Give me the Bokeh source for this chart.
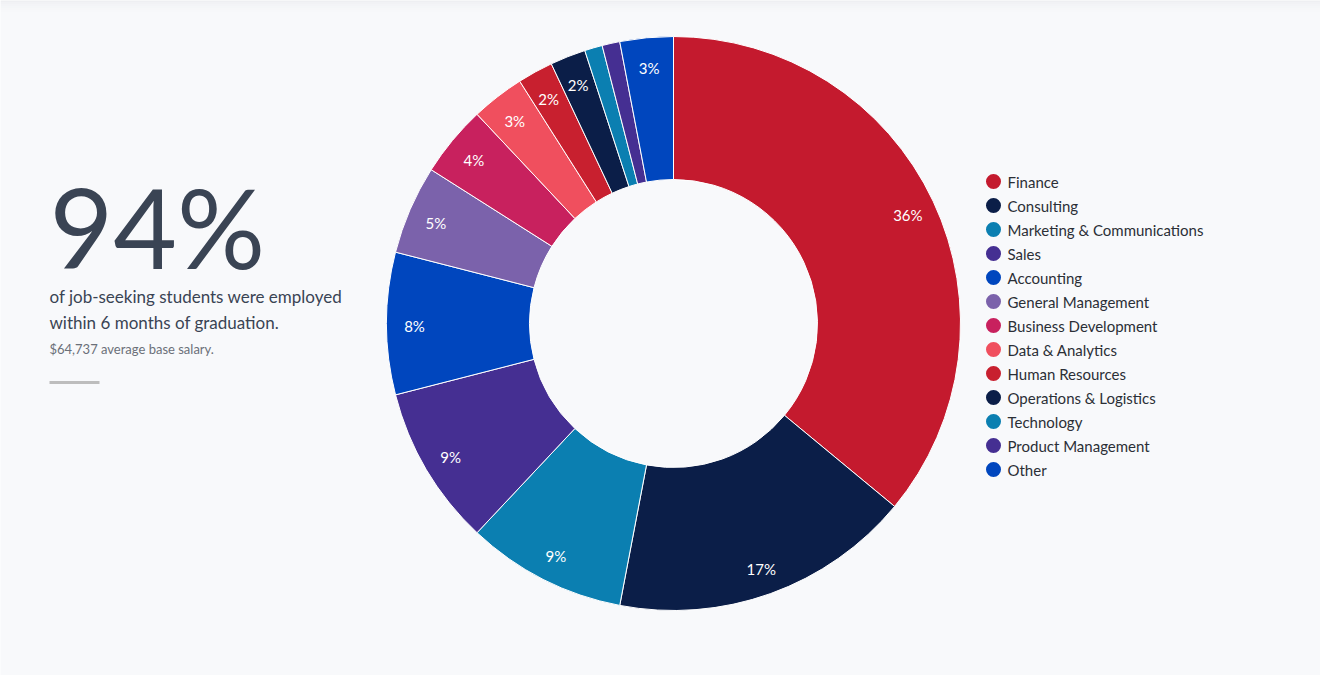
import numpy as np
from bokeh.plotting import figure
from bokeh.models import Range1d, ColumnDataSource
from bokeh.core.properties import value
from bokeh.embed import file_html
from bokeh.resources import INLINE

categories = ["Finance", "Consulting", "Marketing & Communications", "Sales",
              "Accounting", "General Management", "Business Development",
              "Data & Analytics", "Human Resources", "Operations & Logistics",
              "Technology", "Product Management", "Other"]
shares = [36, 17, 9, 9, 8, 5, 4, 3, 2, 2, 1, 1, 3]
colors = ["#c41a2e", "#0b1e48", "#0b7fb1", "#452f92", "#0046be", "#7b62ab",
          "#c8215e", "#f04f5e", "#c8202f", "#0b1e48", "#0b7fb1", "#452f92", "#0046be"]

headline = "94%"
line1 = "of job-seeking students were employed"
line2 = "within 6 months of graduation."
line3 = "$64,737 average base salary."

W, H = 1320, 675
BG = "#f8f9fb"
FONT = "Lato"

def sx(x):
    return x

def sy(y):
    return H - y

p = figure(width=W, height=H, output_backend="svg", toolbar_location=None,
           x_range=Range1d(0, W), y_range=Range1d(0, H), min_border=0,
           background_fill_color=BG, border_fill_color=BG)
p.axis.visible = False
p.grid.visible = False
p.outline_line_color = None

# top shadow
for i, a in enumerate([0.10, 0.07, 0.05, 0.035, 0.02, 0.01]):
    p.segment(x0=[0], x1=[W], y0=[H - 0.5 - i * 2], y1=[H - 0.5 - i * 2],
              line_color="#9aa0a8", line_alpha=a, line_width=2)

# donut
vals = np.array(shares, dtype=float)
frac = vals / vals.sum()
cum_end = np.cumsum(frac)
cum_start = cum_end - frac
start = np.pi / 2 - cum_end * 2 * np.pi
end = np.pi / 2 - cum_start * 2 * np.pi
cx, cy = sx(673), sy(323)
R_OUT, R_IN = 287, 144

src = ColumnDataSource(dict(start=start, end=end, color=colors, cat=categories))
p.annular_wedge(x=cx, y=cy, inner_radius=R_IN, outer_radius=R_OUT,
                start_angle="start", end_angle="end", fill_color="color",
                line_color="white", line_width=1, source=src)

mid = (start + end) / 2
R_LAB = 259
lab_mask = vals >= 2
lx = cx + R_LAB * np.cos(mid[lab_mask])
ly = cy + R_LAB * np.sin(mid[lab_mask]) - 2
labs = [f"{int(round(v))}%" for v in vals[lab_mask]]
p.text(x=lx, y=ly, text=labs, text_color="white", text_font=value(FONT),
       text_font_size="15px", text_align="center", text_baseline="middle")

# legend
n = len(categories)
leg_x = sx(993)
leg_y = np.array([sy(181 + 24 * i) for i in range(n)])
p.scatter(x=[leg_x] * n, y=leg_y, size=15, fill_color=colors, line_color=None)
p.text(x=[sx(1007)] * n, y=leg_y, text=categories, text_color="#2b2f36",
       text_font=value(FONT), text_font_size="15px", text_baseline="middle")

# left block
p.text(x=[sx(49)], y=[sy(225)], text=[headline], text_color="#3a4454",
       text_font=value(FONT), text_font_size="110px",
       text_baseline="middle")
p.text(x=[sx(49), sx(49)], y=[sy(296), sy(322)], text=[line1, line2],
       text_color="#3a4454", text_font=value(FONT), text_font_size="17px",
       text_baseline="middle")
p.text(x=[sx(49)], y=[sy(348)], text=[line3], text_color="#6b7079",
       text_font=value(FONT), text_font_size="13px", text_baseline="middle")
p.segment(x0=[sx(49)], x1=[sx(99)], y0=[sy(382)], y1=[sy(382)],
          line_color="#bdbdbd", line_width=3)

open("out.html", "w").write(file_html(p, INLINE))
